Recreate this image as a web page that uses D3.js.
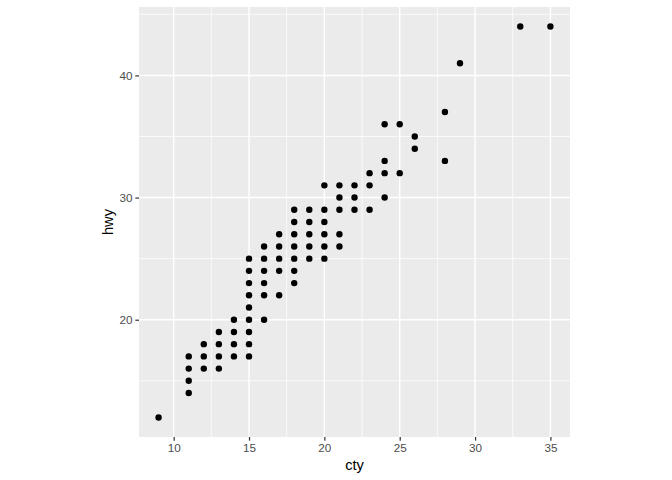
<!DOCTYPE html>
<html>
<head>
<meta charset="utf-8">
<script src="https://cdn.jsdelivr.net/npm/d3@7"></script>
<style>
  html, body { margin: 0; padding: 0; background: #fff; }
  svg { display: block; font-family: "Liberation Sans", Arial, Helvetica, sans-serif; }
</style>
</head>
<body>
<svg id="chart" width="672" height="480"></svg>
<script>
// Unique (cty, hwy) pairs
const cty = [9, 11, 11, 11, 11, 12, 12, 12, 13, 13, 13, 13, 14, 14, 14, 14,
  15, 15, 15, 15, 15, 15, 15, 15, 15, 16, 16, 16, 16, 16, 16, 17, 17, 17, 17, 17,
  18, 18, 18, 18, 18, 18, 18, 19, 19, 19, 19, 19, 20, 20, 20, 20, 20, 20,
  21, 21, 21, 21, 21, 22, 22, 22, 23, 23, 23, 24, 24, 24, 24, 25, 25, 26, 26,
  28, 28, 29, 33, 35];
const hwy = [12, 14, 15, 16, 17, 16, 17, 18, 16, 17, 18, 19, 17, 18, 19, 20,
  17, 18, 19, 20, 21, 22, 23, 24, 25, 20, 22, 23, 24, 25, 26, 22, 24, 25, 26, 27,
  23, 24, 25, 26, 27, 28, 29, 25, 26, 27, 28, 29, 25, 26, 27, 28, 29, 31,
  26, 27, 29, 30, 31, 29, 30, 31, 29, 31, 32, 30, 32, 33, 36, 32, 36, 34, 35,
  33, 37, 41, 44, 44];
const xTicks = [10, 15, 20, 25, 30, 35];
const xMinor = [12.5, 17.5, 22.5, 27.5, 32.5];
const yTicks = [20, 30, 40];
const yMinor = [15, 25, 35, 45];
const xLabel = "cty";
const yLabel = "hwy";

const svg = d3.select("#chart");
const L = 139, R = 570, T = 7, B = 437;

const xExt = d3.extent(cty), yExt = d3.extent(hwy);
const xPad = (xExt[1] - xExt[0]) * 0.05, yPad = (yExt[1] - yExt[0]) * 0.05;
const x = d3.scaleLinear().domain([xExt[0] - xPad, xExt[1] + xPad]).range([L, R]);
const y = d3.scaleLinear().domain([yExt[0] - yPad, yExt[1] + yPad]).range([B, T]);

// panel
svg.append("rect").attr("x", L).attr("y", T).attr("width", R - L).attr("height", B - T)
  .attr("fill", "#EBEBEB");

const grid = svg.append("g");
grid.selectAll(".xmin").data(xMinor).join("line")
  .attr("x1", d => x(d)).attr("x2", d => x(d)).attr("y1", T).attr("y2", B)
  .attr("stroke", "#fff").attr("stroke-width", 0.75);
grid.selectAll(".ymin").data(yMinor).join("line")
  .attr("y1", d => y(d)).attr("y2", d => y(d)).attr("x1", L).attr("x2", R)
  .attr("stroke", "#fff").attr("stroke-width", 0.75);
grid.selectAll(".xmaj").data(xTicks).join("line")
  .attr("x1", d => x(d)).attr("x2", d => x(d)).attr("y1", T).attr("y2", B)
  .attr("stroke", "#fff").attr("stroke-width", 1.45);
grid.selectAll(".ymaj").data(yTicks).join("line")
  .attr("y1", d => y(d)).attr("y2", d => y(d)).attr("x1", L).attr("x2", R)
  .attr("stroke", "#fff").attr("stroke-width", 1.45);

// points
const pts = cty.map((c, i) => ({ c, h: hwy[i] }));
svg.append("g").selectAll("circle").data(pts).join("circle")
  .attr("cx", d => x(d.c)).attr("cy", d => y(d.h)).attr("r", 3.2).attr("fill", "#000");

// axes
const xAxis = d3.axisBottom(x).tickValues(xTicks).tickSize(3.67).tickPadding(2.93).tickFormat(d3.format("d"));
const yAxis = d3.axisLeft(y).tickValues(yTicks).tickSize(3.67).tickPadding(2.93).tickFormat(d3.format("d"));
const gx = svg.append("g").attr("transform", `translate(0,${B})`).call(xAxis);
const gy = svg.append("g").attr("transform", `translate(${L},0)`).call(yAxis);
[gx, gy].forEach(g => {
  g.select(".domain").remove();
  g.selectAll(".tick line").attr("stroke", "#333333").attr("stroke-width", 1.2);
  g.selectAll(".tick text").attr("fill", "#4D4D4D").style("font-size", "11.7px")
    .style("font-family", "'Liberation Sans', Arial, sans-serif");
});

svg.append("text").attr("x", (L + R) / 2).attr("y", 470).attr("text-anchor", "middle")
  .style("font-size", "14.67px").attr("fill", "#000").text(xLabel);
svg.append("text").attr("transform", `translate(113,${(T + B) / 2}) rotate(-90)`)
  .attr("text-anchor", "middle").style("font-size", "14.67px").attr("fill", "#000").text(yLabel);
</script>
</body>
</html>
